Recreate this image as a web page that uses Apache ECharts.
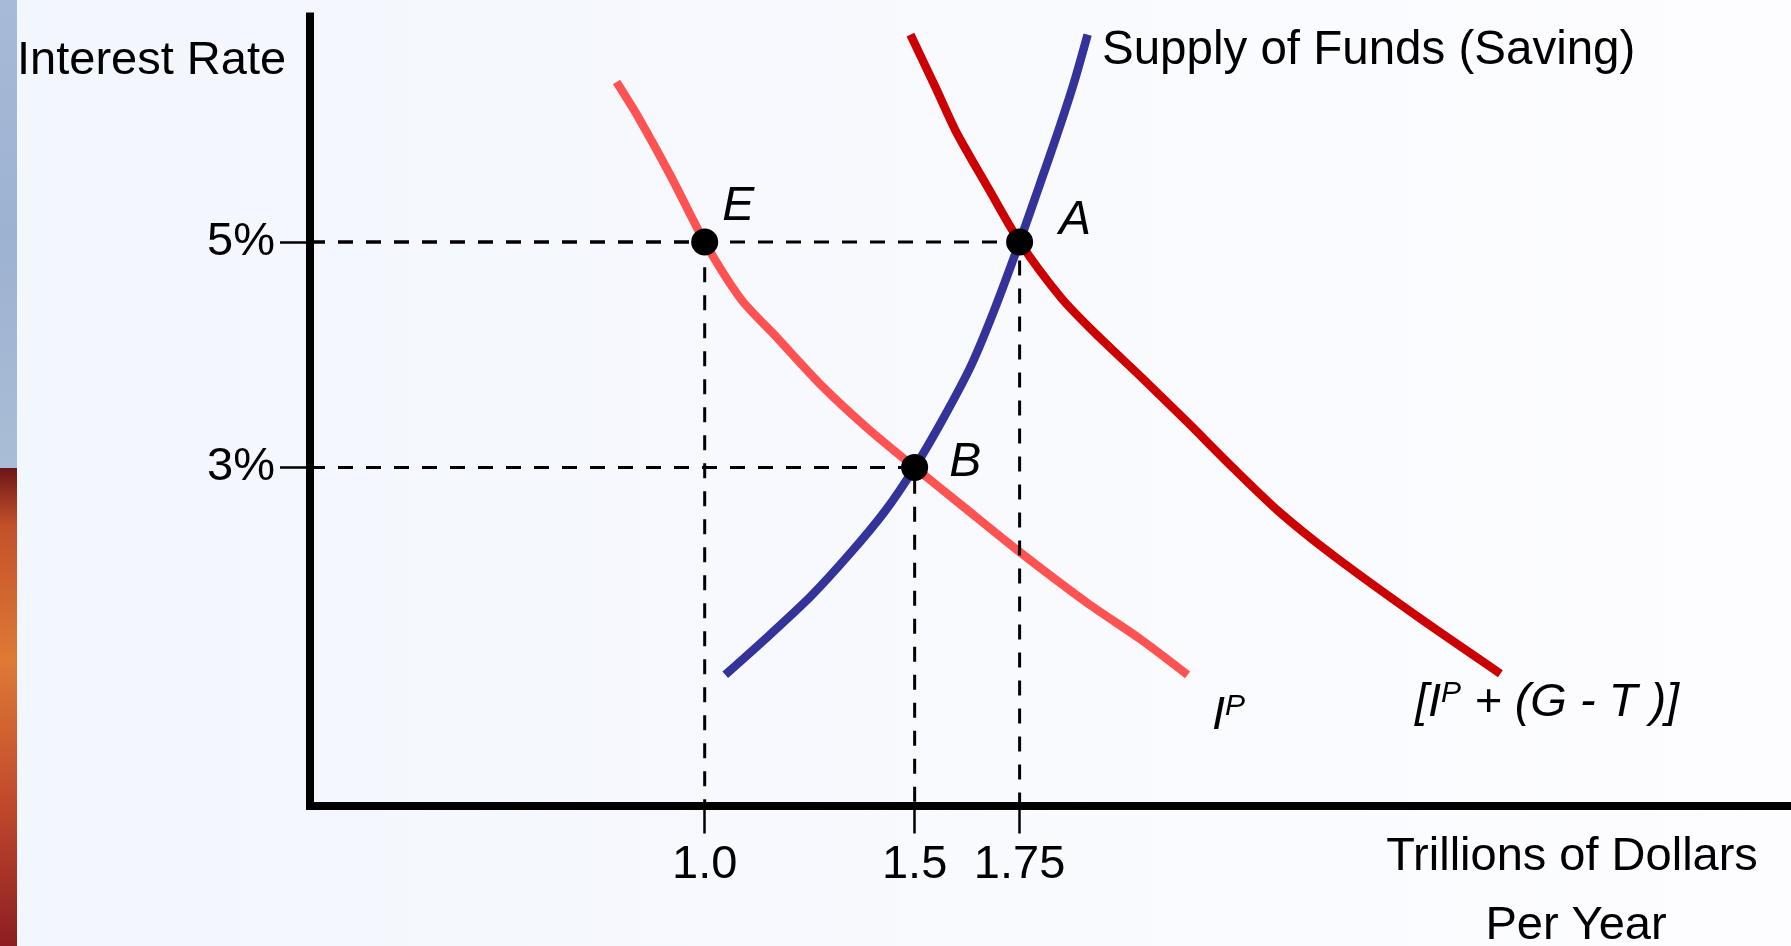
<!DOCTYPE html>
<html>
<head>
<meta charset="utf-8">
<title>Supply of funds and investment</title>
<script src="https://cdn.jsdelivr.net/npm/echarts@6/dist/echarts.min.js"></script>
<style>
  html, body { margin: 0; padding: 0; }
  #chart { width: 1791px; height: 946px; }
</style>
</head>
<body>
<div id="chart"></div>
<script>
  // curve points: [trillions of dollars, interest rate %]
  var investment = [
    [0.79, 6.42], [0.84, 6.12], [0.92, 5.58], [1.0, 5.0], [1.087, 4.49],
    [1.17, 4.16], [1.28, 3.72], [1.39, 3.34], [1.5, 3.0], [1.61, 2.67],
    [1.75, 2.25], [1.91, 1.80], [2.04, 1.47], [2.15, 1.16]
  ];
  var investmentPlusDeficit = [
    [1.49, 6.84], [1.55, 6.37], [1.60, 5.97], [1.675, 5.48], [1.75, 5.0],
    [1.85, 4.50], [1.93, 4.19], [2.04, 3.80], [2.15, 3.40], [2.26, 2.99],
    [2.37, 2.60], [2.50, 2.21], [2.70, 1.67], [2.895, 1.17]
  ];
  var supplyOfFunds = [
    [1.049, 1.16], [1.142, 1.47], [1.251, 1.85], [1.347, 2.24], [1.429, 2.61],
    [1.5, 3.0], [1.566, 3.42], [1.634, 3.90], [1.689, 4.39], [1.75, 5.0],
    [1.798, 5.51], [1.839, 5.95], [1.88, 6.42], [1.912, 6.84]
  ];
  var equilibriumNames = ['E', 'A', 'B'];
  var equilibriumPoints = [[1.0, 5], [1.75, 5], [1.5, 3]];
  var xTickValues = [1.0, 1.5, 1.75];
  var xTickLabels = ['1.0', '1.5', '1.75'];
  var yTickValues = [3, 5];
  var yTickLabels = ['3%', '5%'];

  var X_MIN = 0.06, X_MAX = 3.58, Y_MIN = 0, Y_MAX = 7;
  var FONT = "'Liberation Sans', Arial, sans-serif";
  var labelOffsets = { E: [4, -35], A: [26, -21], B: [21, -5] };

  var chart = echarts.init(document.getElementById('chart'));

  function curve(name, data, color) {
    return {
      name: name,
      type: 'line',
      data: data,
      symbol: 'none',
      smooth: 0.25,
      silent: true,
      z: 2,
      lineStyle: { color: color, width: 8.5 }
    };
  }

  // dashed guides: from the y axis across to the point, then down to the x axis
  var guides = equilibriumPoints.map(function (p) {
    return {
      type: 'line',
      data: [[X_MIN, p[1]], p, [p[0], Y_MIN]],
      symbol: 'none',
      silent: true,
      z: 3,
      lineStyle: { color: '#000', width: 3, type: [15, 13] }
    };
  });

  var dots = equilibriumPoints.map(function (p, i) {
    var n = equilibriumNames[i];
    return { value: p, name: n, label: { offset: labelOffsets[n] } };
  });

  var italic = { fontSize: 47, lineHeight: 47, fontStyle: 'italic', fontFamily: FONT, fill: '#000' };
  var sup = { fontSize: 30, lineHeight: 30, fontStyle: 'italic', fontFamily: FONT, fill: '#000', verticalAlign: 'top' };

  chart.setOption({
    animation: false,
    backgroundColor: new echarts.graphic.LinearGradient(0, 0, 1, 0, [
      { offset: 0, color: '#f2f6fd' },
      { offset: 1, color: '#fdfdff' }
    ]),
    grid: { left: 310, right: 3, top: 16.6, bottom: 140.5 },
    xAxis: {
      type: 'value',
      min: X_MIN,
      max: X_MAX,
      splitLine: { show: false },
      axisLine: { show: true, lineStyle: { color: '#000', width: 8, cap: 'square' } },
      axisTick: {
        show: true,
        customValues: xTickValues,
        length: 28,
        lineStyle: { color: '#000', width: 2.5 }
      },
      axisLabel: {
        customValues: xTickValues,
        formatter: function (v) { return xTickLabels[xTickValues.indexOf(v)]; },
        margin: 36,
        fontSize: 47,
        lineHeight: 47,
        fontFamily: FONT,
        color: '#000'
      }
    },
    yAxis: {
      type: 'value',
      min: Y_MIN,
      max: Y_MAX,
      splitLine: { show: false },
      axisLine: { show: true, lineStyle: { color: '#000', width: 8, cap: 'square' } },
      axisTick: {
        show: true,
        customValues: yTickValues,
        length: 30,
        lineStyle: { color: '#000', width: 2.5 }
      },
      axisLabel: {
        customValues: yTickValues,
        formatter: function (v) { return yTickLabels[yTickValues.indexOf(v)]; },
        margin: 35,
        fontSize: 47,
        fontFamily: FONT,
        color: '#000'
      }
    },
    series: [
      curve('Ip', investment, '#ff5252'),
      curve('Ip + (G - T)', investmentPlusDeficit, '#cc0000'),
      curve('Supply of Funds (Saving)', supplyOfFunds, '#333399')
    ].concat(guides).concat([{
      type: 'scatter',
      data: dots,
      symbolSize: 27,
      silent: true,
      z: 4,
      itemStyle: { color: '#000', opacity: 1 },
      label: {
        show: true,
        position: 'right',
        distance: 0,
        formatter: '{b}',
        fontSize: 48,
        fontStyle: 'italic',
        fontFamily: FONT,
        color: '#000'
      }
    }]),
    graphic: [
      {
        type: 'rect', silent: true, z: -1,
        shape: { x: 0, y: 0, width: 17, height: 468 },
        style: { fill: new echarts.graphic.LinearGradient(0, 0, 0, 1, [
          { offset: 0, color: '#a7bbd8' },
          { offset: 0.5, color: '#9db2d1' },
          { offset: 1, color: '#a9bdd6' }
        ]) }
      },
      {
        type: 'rect', silent: true, z: -1,
        shape: { x: 0, y: 468, width: 17, height: 478 },
        style: { fill: new echarts.graphic.LinearGradient(0, 0, 0, 1, [
          { offset: 0, color: '#6e1518' },
          { offset: 0.12, color: '#c2512a' },
          { offset: 0.4, color: '#de7a36' },
          { offset: 0.7, color: '#c04a2c' },
          { offset: 1, color: '#8c1e22' }
        ]) }
      },
      {
        type: 'text', x: 17, y: 61, silent: true,
        style: { text: 'Interest Rate', fontSize: 47, fontFamily: FONT, fill: '#000',
                 align: 'left', verticalAlign: 'middle' }
      },
      {
        type: 'text', x: 1102, y: 51, silent: true,
        style: { text: 'Supply of Funds (Saving)', fontSize: 47.5, fontFamily: FONT, fill: '#000',
                 align: 'left', verticalAlign: 'middle' }
      },
      {
        type: 'text', x: 1572, y: 857, silent: true,
        style: { text: 'Trillions of Dollars', fontSize: 47, fontFamily: FONT, fill: '#000',
                 align: 'center', verticalAlign: 'middle' }
      },
      {
        type: 'text', x: 1576, y: 926, silent: true,
        style: { text: 'Per Year', fontSize: 47, fontFamily: FONT, fill: '#000',
                 align: 'center', verticalAlign: 'middle' }
      },
      {
        type: 'text', x: 1212, y: 692, silent: true,
        style: {
          text: '{i|I}{s|P}',
          align: 'left', verticalAlign: 'top',
          rich: { i: italic, s: sup }
        }
      },
      {
        type: 'text', x: 1415, y: 679, silent: true,
        style: {
          text: '{i|[I}{s|P}{i| + (G - T )]}',
          align: 'left', verticalAlign: 'top',
          rich: { i: italic, s: sup }
        }
      }
    ]
  });
</script>
</body>
</html>
